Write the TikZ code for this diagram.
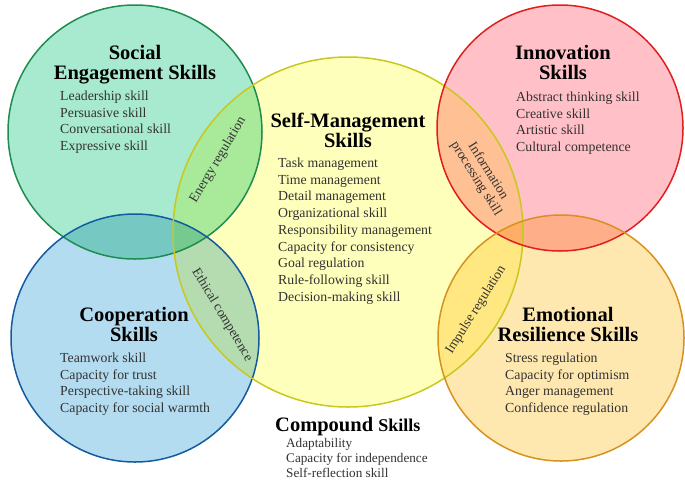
\documentclass[tikz,border=0pt]{standalone}
\usepackage{fontspec}
\setmainfont{Liberation Serif}
\usepackage{xcolor}
\usepackage{tikz}
\usetikzlibrary{positioning}

\definecolor{socfill}{RGB}{168,234,208}
\definecolor{socline}{RGB}{30,140,80}
\definecolor{selffill}{RGB}{255,255,188}
\definecolor{selfline}{RGB}{200,200,30}
\definecolor{innofill}{RGB}{255,192,200}
\definecolor{innoline}{RGB}{225,30,30}
\definecolor{coopfill}{RGB}{180,220,240}
\definecolor{coopline}{RGB}{20,90,160}
\definecolor{emofill}{RGB}{255,232,176}
\definecolor{emoline}{RGB}{215,145,30}
\definecolor{itemgray}{RGB}{50,50,50}

\tikzset{
  ring/.style={line width=1.5pt},
  heading/.style={font=\bfseries\fontsize{20.5}{20}\selectfont, align=center, inner sep=0pt},
  items/.style={font=\fontsize{13.8}{16.75}\selectfont, align=left, anchor=north west,
    inner sep=0pt, text=itemgray},
  lens/.style={font=\fontsize{13.5}{14}\selectfont, align=center, inner sep=0pt, text=itemgray}
}

\begin{document}
\begin{tikzpicture}[x=1pt,y=-1pt]
    \useasboundingbox (0,0) rectangle (685,480);
    \begin{scope}[blend group=multiply]
      \fill[socfill] (135,132) circle (127);
      \fill[coopfill] (135,338) circle (124);
      \fill[selffill] (348,232) circle (175);
      \fill[innofill] (560,128) circle (123);
      \fill[emofill] (561,338) circle (123);
    \end{scope}
    \draw[ring, socline] (135,132) circle (127);
    \draw[ring, coopline] (135,338) circle (124);
    \draw[ring, selfline] (348,232) circle (175);
    \draw[ring, innoline] (560,128) circle (123);
    \draw[ring, emoline] (561,338) circle (123);

    \node[heading] (socialtitle) at (135,64.5) {Social\\Engagement Skills};
    \node[items] (sociallist) at (60,90.5) {Leadership skill\\Persuasive skill\\
      Conversational skill\\Expressive skill};

    \node[heading] (selftitle) at (348,130.5) {Self-Management\\Skills};
    \node[items] (selflist) at (278,157.5) {Task management\\Time management\\
      Detail management\\Organizational skill\\Responsibility management\\
      Capacity for consistency\\Goal regulation\\Rule-following skill\\
      Decision-making skill};

    \node[heading] (innotitle) at (563,62) {Innovation\\Skills};
    \node[items] (innolist) at (516,91.5) {Abstract thinking skill\\Creative skill\\
      Artistic skill\\Cultural competence};

    \node[heading] (cooptitle) at (134,324) {Cooperation\\Skills};
    \node[items] (cooplist) at (60,352.5) {Teamwork skill\\Capacity for trust\\
      Perspective-taking skill\\Capacity for social warmth};

    \node[heading] (emotitle) at (568,324) {Emotional\\Resilience Skills};
    \node[items] (emolist) at (505,352.5) {Stress regulation\\Capacity for optimism\\
      Anger management\\Confidence regulation};

    \node[inner sep=0pt, anchor=west] (comptitle) at (275,427)
      {\bfseries\fontsize{20.5}{20}\selectfont Compound {\fontsize{18}{20}\selectfont Skills}};
    \node[items, font=\fontsize{13.2}{14.8}\selectfont] (complist) at (286,438.5)
      {Adaptability\\Capacity for independence\\Self-reflection skill};

    \node[lens, rotate=59] (energy) at (218,160) {Energy regulation};
    \node[lens, rotate=-59] (ethical) at (222,315) {Ethical competence};
    \node[lens, rotate=-58] (info) at (482,175) {Information\\processing skill};
    \node[lens, rotate=58] (impulse) at (476,310) {Impulse regulation};
\end{tikzpicture}
\end{document}
